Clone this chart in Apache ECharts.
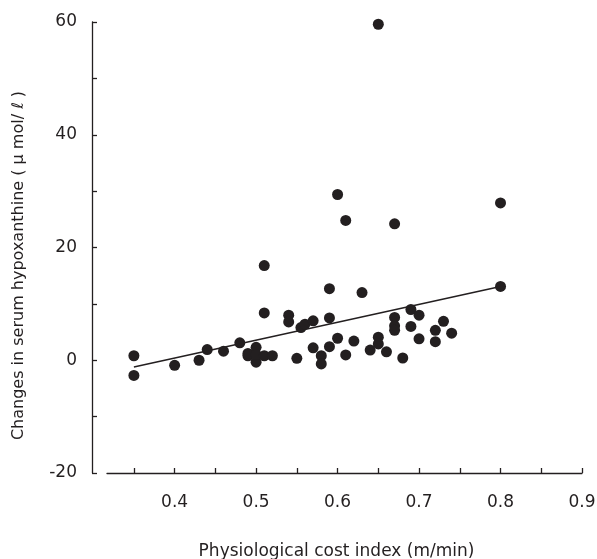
<!DOCTYPE html>
<html>
<head>
<meta charset="utf-8">
<script src="https://cdn.jsdelivr.net/npm/echarts@6/dist/echarts.min.js"></script>
<style>
  html, body { margin: 0; padding: 0; background: #fff; }
  #chart { width: 597px; height: 559px; }
</style>
</head>
<body>
<div id="chart"></div>
<script>
// physiological cost index (m/min) vs change in serum hypoxanthine
const pciValues = [
  0.35, 0.35, 0.40, 0.43, 0.44, 0.46, 0.48, 0.49, 0.49, 0.50,
  0.50, 0.50, 0.51, 0.52, 0.51, 0.51, 0.54, 0.54, 0.55, 0.555,
  0.56, 0.57, 0.59, 0.59, 0.57, 0.58, 0.58, 0.59, 0.60, 0.61,
  0.62, 0.63, 0.64, 0.65, 0.65, 0.66, 0.67, 0.67, 0.67, 0.68,
  0.69, 0.70, 0.69, 0.70, 0.72, 0.73, 0.72, 0.74, 0.80, 0.65,
  0.60, 0.61, 0.67, 0.80
];
const hypoxValues = [
  0.8, -2.7, -0.9, 0.0, 1.9, 1.6, 3.1, 0.8, 1.2, 2.3,
  -0.35, 1.0, 0.8, 0.8, 8.4, 16.8, 8.0, 6.8, 0.35, 5.8,
  6.4, 7.0, 12.7, 7.5, 2.2, 0.8, -0.65, 2.4, 3.9, 0.95,
  3.4, 12.0, 1.8, 4.1, 2.9, 1.5, 7.6, 6.1, 5.3, 0.4,
  9.0, 8.0, 6.0, 3.8, 5.3, 6.9, 3.3, 4.8, 13.1, 59.6,
  29.4, 24.8, 24.2, 27.9
];
// regression line end points
const fitX = [0.35, 0.80];
const fitY = [-1.2, 13.1];

const xTicks = [0.35, 0.4, 0.45, 0.5, 0.55, 0.6, 0.65, 0.7, 0.75, 0.8, 0.85, 0.9];
const xLabels = [0.4, 0.5, 0.6, 0.7, 0.8, 0.9];

const ink = "#231f20";
const font = "DejaVu Sans";

const chart = echarts.init(document.getElementById("chart"));
chart.setOption({
  backgroundColor: "#fff",
  animation: false,
  grid: { left: 107, right: 15, top: 22, bottom: 86, outerBoundsMode: "none" },
  xAxis: {
    type: "value",
    min: 0.317,
    max: 0.9,
    name: "Physiological cost index (m/min)",
    nameLocation: "middle",
    nameGap: 70,
    nameTextStyle: { color: ink, fontSize: 17, fontFamily: font, padding: [0, 16, 0, 0] },
    axisLine: { onZero: false, lineStyle: { color: ink, width: 1.3 } },
    axisTick: {
      inside: true,
      length: 5,
      customValues: xTicks,
      lineStyle: { color: ink, width: 1.3 },
    },
    axisLabel: {
      customValues: xLabels,
      margin: 21,
      color: ink,
      fontSize: 17,
      fontFamily: font,
      formatter: (v) => v.toFixed(1),
    },
    splitLine: { show: false },
  },
  yAxis: {
    type: "value",
    min: -20,
    max: 60,
    interval: 20,
    offset: 15,
    name: "Changes in serum hypoxanthine ( \u03bc mol/ \u2113 )",
    nameLocation: "middle",
    nameGap: 65,
    nameTextStyle: { color: ink, fontSize: 16, fontFamily: font, padding: [0, 36, 0, 0] },
    axisLine: { show: true, onZero: false, lineStyle: { color: ink, width: 1.3 } },
    axisTick: { inside: true, length: 5, lineStyle: { color: ink, width: 1.3 } },
    minorTick: { show: true, splitNumber: 2, length: 5, lineStyle: { color: ink, width: 1.3 } },
    axisLabel: { margin: 15, color: ink, fontSize: 17, fontFamily: font },
    splitLine: { show: false },
  },
  series: [
    {
      type: "line",
      data: fitX.map((x, i) => [x, fitY[i]]),
      symbol: "none",
      lineStyle: { color: ink, width: 1.5 },
      z: 1,
    },
    {
      type: "scatter",
      data: pciValues.map((x, i) => [x, hypoxValues[i]]),
      symbolSize: 11,
      itemStyle: { color: ink, opacity: 1 },
      z: 2,
    },
  ],
});
</script>
</body>
</html>
